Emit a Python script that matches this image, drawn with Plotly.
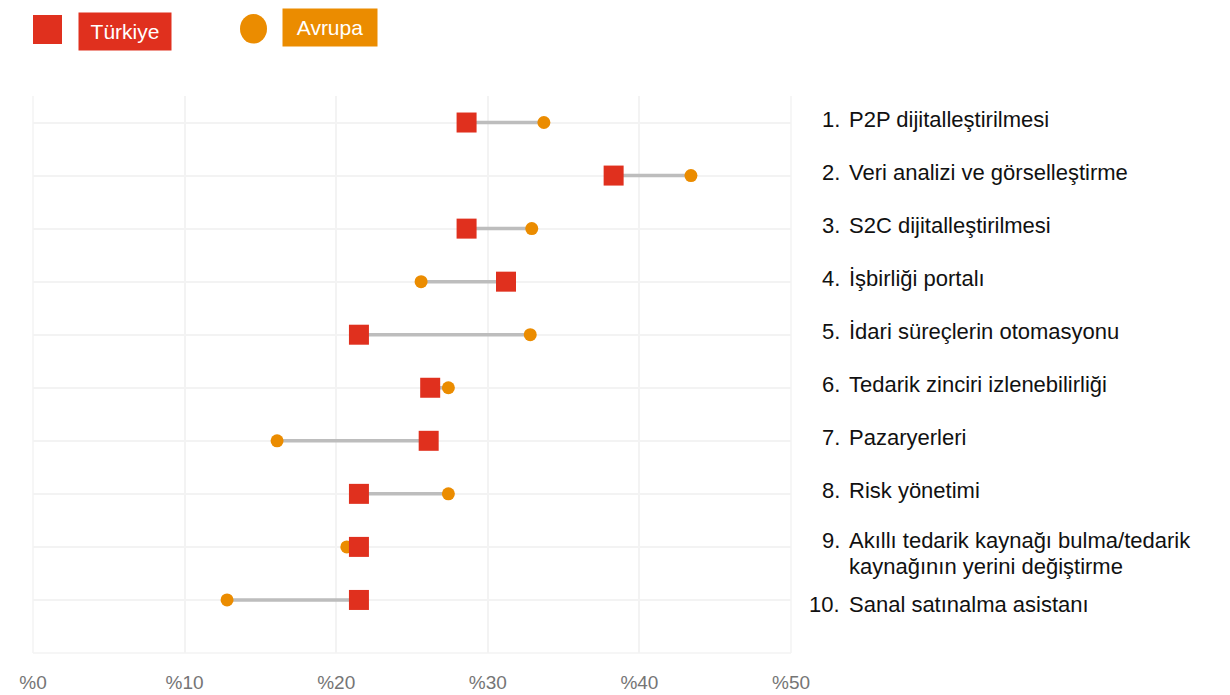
import plotly.graph_objects as go

# Procurement technology priorities, share of respondents (%)
labels = [
    "P2P dijitalleştirilmesi",
    "Veri analizi ve görselleştirme",
    "S2C dijitalleştirilmesi",
    "İşbirliği portalı",
    "İdari süreçlerin otomasyonu",
    "Tedarik zinciri izlenebilirliği",
    "Pazaryerleri",
    "Risk yönetimi",
    ["Akıllı tedarik kaynağı bulma/tedarik", "kaynağının yerini değiştirme"],
    "Sanal satınalma asistanı",
]
turkiye = [28.6, 38.3, 28.6, 31.2, 21.5, 26.2, 26.1, 21.5, 21.5, 21.5]
avrupa = [33.7, 43.4, 32.9, 25.6, 32.8, 27.4, 16.1, 27.4, 20.7, 12.8]
x_ticks = [0, 10, 20, 30, 40, 50]
x_tick_text = ["%0", "%10", "%20", "%30", "%40", "%50"]

RED = "#E0301E"
ORANGE = "#EB8C00"
GREY_LINE = "#BDBDBD"
GRID = "#F3F3F3"
FONT = "Liberation Sans, Arial, sans-serif"
LABEL_SIZE = 22

W, H = 1230, 695
L, R, T, B = 33, 439, 96, 42
PW, PH = W - L - R, H - T - B

def px(x):
    return (x - L) / PW

def py(y):
    return (H - B - y) / PH

rows = list(range(len(labels)))

fig = go.Figure()

# connector segments between the two values of each row
for i in rows:
    fig.add_trace(go.Scatter(
        x=[turkiye[i], avrupa[i]], y=[i, i], mode="lines",
        line=dict(color=GREY_LINE, width=3.5),
        hoverinfo="skip", showlegend=False,
    ))

fig.add_trace(go.Scatter(
    x=avrupa, y=rows, mode="markers", name="Avrupa",
    marker=dict(symbol="circle", size=13, color=ORANGE, line=dict(width=0)),
    showlegend=False,
))
fig.add_trace(go.Scatter(
    x=turkiye, y=rows, mode="markers", name="Türkiye",
    marker=dict(symbol="square", size=20, color=RED, line=dict(width=0)),
    showlegend=False,
))

annotations = []
label_font = dict(family=FONT, size=LABEL_SIZE, color="#111111")
for i, lab in enumerate(labels):
    if isinstance(lab, list):
        lines, shifts = lab, [6, -20]
    else:
        lines, shifts = [lab], [-5 if i == 9 else 3]
    annotations.append(dict(
        x=px(842), y=i, xref="paper", yref="y", text=f"{i + 1}.",
        showarrow=False, xanchor="right", yanchor="middle",
        yshift=shifts[0], font=label_font,
    ))
    for line, shift in zip(lines, shifts):
        annotations.append(dict(
            x=px(847), y=i, xref="paper", yref="y", text=line,
            showarrow=False, xanchor="left", yanchor="middle", align="left",
            yshift=shift, font=label_font,
        ))

# legend: swatches with coloured label boxes
annotations.append(dict(
    x=px(78), y=py(31.5), xref="paper", yref="paper", text="Türkiye",
    showarrow=False, xanchor="left", yanchor="middle",
    bgcolor=RED, width=86, height=31, borderpad=3,
    font=dict(family=FONT, size=21, color="white"),
))
annotations.append(dict(
    x=px(282), y=py(27.5), xref="paper", yref="paper", text="Avrupa",
    showarrow=False, xanchor="left", yanchor="middle",
    bgcolor=ORANGE, width=88, height=31, borderpad=3,
    font=dict(family=FONT, size=21, color="white"),
))

frame = dict(color=GRID, width=1.5)
shapes = [
    dict(type="rect", xref="paper", yref="paper",
         x0=px(33), x1=px(62), y0=py(44), y1=py(15),
         fillcolor=RED, line=dict(width=0)),
    dict(type="circle", xref="paper", yref="paper",
         x0=px(240), x1=px(267), y0=py(43.5), y1=py(14),
         fillcolor=ORANGE, line=dict(width=0)),
    # plot frame on the left, right and bottom edges
    dict(type="line", xref="paper", yref="paper", x0=0, x1=0, y0=0, y1=1,
         line=frame, layer="below"),
    dict(type="line", xref="paper", yref="paper", x0=1, x1=1, y0=0, y1=1,
         line=frame, layer="below"),
    dict(type="line", xref="paper", yref="paper", x0=0, x1=1, y0=0, y1=0,
         line=frame, layer="below"),
]

fig.update_layout(
    width=W, height=H,
    margin=dict(l=L, r=R, t=T, b=B),
    paper_bgcolor="white", plot_bgcolor="white",
    annotations=annotations, shapes=shapes,
    font=dict(family=FONT),
    xaxis=dict(
        range=[0, 50], tickvals=x_ticks, ticktext=x_tick_text,
        showgrid=True, gridcolor=GRID, gridwidth=1.5, zeroline=False,
        showline=False, ticks="", ticklabelstandoff=16, automargin=False,
        tickfont=dict(family=FONT, size=19, color="#757575"),
        fixedrange=True,
    ),
    yaxis=dict(
        range=[10, -0.5], tickvals=list(range(11)), showticklabels=False,
        showgrid=True, gridcolor=GRID, gridwidth=1.5, zeroline=False,
        showline=False, ticks="", automargin=False, fixedrange=True,
    ),
)

fig.write_html("out.html")
